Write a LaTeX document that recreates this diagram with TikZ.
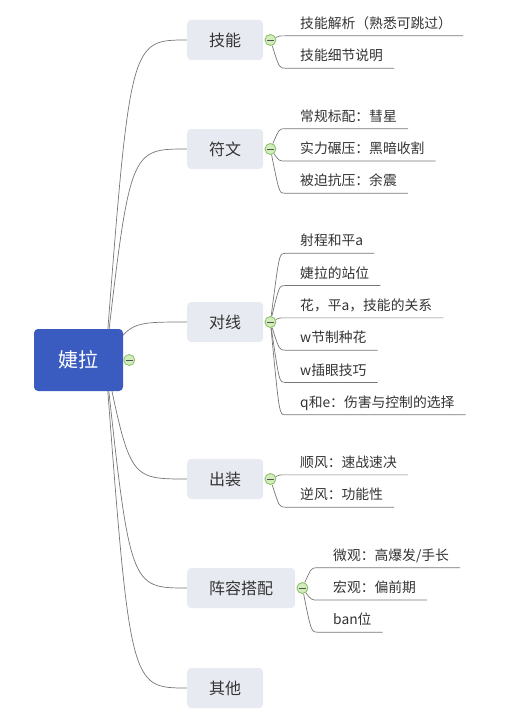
\documentclass[tikz,border=0pt]{standalone}
\usepackage{fontspec}
\setmainfont{Noto Sans CJK SC}
\usetikzlibrary{backgrounds,calc}
\definecolor{wurzelblau}{HTML}{3A5BBF}
\definecolor{astgrau}{HTML}{E8EAF2}
\definecolor{knopfgruen}{HTML}{D3ECBC}
\definecolor{knopfrand}{HTML}{86BF62}
\definecolor{linie}{HTML}{767676}
\definecolor{schrift}{HTML}{333333}
\tikzset{
    wurzel/.style={fill=wurzelblau, rounded corners=4pt, minimum width=89pt, minimum height=62pt, text=white, font=\fontsize{20}{24}\selectfont},
    ast/.style={fill=astgrau, rounded corners=4pt, anchor=west, minimum height=40pt, inner xsep=22pt, text=schrift, font=\fontsize{16}{19}\selectfont},
    blatt/.style={anchor=south west, inner sep=0pt, text height=11pt, text depth=7.2pt, text=schrift, font=\fontsize{13.8}{16}\selectfont},
    knopf/.style={circle, draw=knopfrand, fill=knopfgruen, minimum size=11pt, inner sep=0pt, line width=0.8pt,
        path picture={\draw[schrift!85, line width=0.8pt] ([xshift=-3.5pt]path picture bounding box.center) -- ([xshift=3.5pt]path picture bounding box.center);}},
    verbinder/.style={draw=linie, line width=0.7pt},
}
\begin{document}
\begin{tikzpicture}[x=1pt, y=-1pt]
    \useasboundingbox (0,0) rectangle (527,725);
    %Wurzel
    \node[wurzel] (zela) at (78.5,360) {婕拉};
    \node[knopf] (kzela) at ([xshift=6pt]zela.east) {};

    %Hauptaeste
    \foreach \n/\t/\y in {jineng/技能/40, fuwen/符文/149, duixian/对线/322, chuzhuang/出装/479, zhenrong/阵容搭配/588, qita/其他/688} {
        \node[ast] (\n) at (187,\y) {\t};
        \begin{scope}[on background layer]
            \draw[verbinder] ([xshift=27pt]zela.center) .. controls (130,\y) .. (\n.west);
        \end{scope}
    }%Kurven hinter der Wurzel

    %Unteraeste
    \foreach \n/\y/\x/\N/\liste in {
        jineng/40/300/2/{技能解析（熟悉可跳过）,技能细节说明},
        fuwen/149/300/3/{常规标配：彗星,实力碾压：黑暗收割,被迫抗压：余震},
        duixian/322/300/6/{射程和平a,婕拉的站位,花，平a，技能的关系,w节制种花,w插眼技巧,q和e：伤害与控制的选择},
        chuzhuang/479/300/2/{顺风：速战速决,逆风：功能性},
        zhenrong/588/333/3/{{微观：高爆发/手长},宏观：偏前期,ban位}} {
        \node[knopf] (k\n) at ([xshift=7pt]\n.east) {};
        \foreach \t [count=\i] in \liste {
            \node[blatt] (\n\i) at (\x, {\y+32.3*(\i-(\N+1)/2)+12}) {\t};
            \draw[verbinder] (k\n) .. controls ($(k\n.east |- \n\i.south west)+(3,0)$) .. ([xshift=-15pt]\n\i.south west) -- ([xshift=11pt]\n\i.south east);
        }
    }
\end{tikzpicture}
\end{document}
